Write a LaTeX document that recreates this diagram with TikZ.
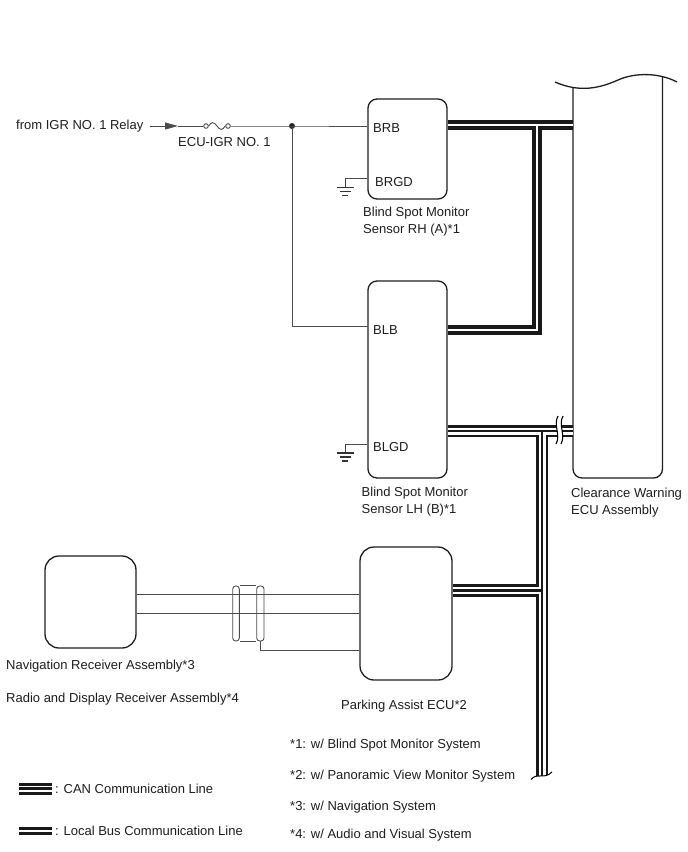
\documentclass[tikz,border=0pt]{standalone}
\usepackage{fontspec}
\setmainfont{Liberation Sans}
\usetikzlibrary{arrows.meta}
\begin{document}
\begin{tikzpicture}[x=1pt,y=-1pt,
  wire/.style={draw=black!70, line width=0.9pt},
  box/.style={draw=black!88, line width=1.3pt, rounded corners=9pt, inner sep=0pt},
  lbl/.style={anchor=base west, inner sep=0pt, font=\fontsize{13}{15}\selectfont, text=black!88},
  locout/.style={draw=black!90, line width=9.7pt},
  locin/.style={draw=white, line width=2.3pt},
  canout/.style={draw=black!90, line width=12.3pt},
  canmid/.style={draw=white, line width=7.3pt},
  cancore/.style={draw=black!90, line width=2.2pt},
  gnd/.pic={\draw[draw=black!75, line width=1pt] (0,0) -- (0,9);
            \draw[draw=black!80, line width=1.3pt] (-8.5,9) -- (8.5,9) (-5.5,13) -- (5.5,13) (-2.8,17) -- (2.8,17);},
]
\useasboundingbox[fill=white] (0,0) rectangle (688,852);

% ---- coordinates of bus ends
\coordinate (ecuLB) at (573,125.2);
\coordinate (lbj) at (536.7,125.2);
\coordinate (lbc) at (536.7,330.2);
\coordinate (ecuCAN) at (573,431.2);
\coordinate (canj) at (542.3,431.2);
\coordinate (canp) at (542.3,590.5);
\coordinate (canend) at (542.3,781);

% ---- boxes
\node[box, minimum width=79pt, minimum height=100pt] (brb) at (407.5,149) {};
\node[box, minimum width=79pt, minimum height=197pt] (blb) at (407.5,379.5) {};
\node[box, minimum width=92pt, minimum height=133pt, rounded corners=14pt] (pa) at (406,613.5) {};
\node[box, minimum width=91pt, minimum height=92pt, rounded corners=14pt] (nav) at (90.5,602) {};

% ---- clearance warning ECU
\draw[draw=black!88, line width=1.3pt, rounded corners=9pt] (573,87.5) -- (573,478) -- (662.5,478) -- (662.5,77);
\draw[draw=black!88, line width=1.3pt] (555,82) .. controls (580,93) and (600,88) .. (618,80) .. controls (636,72) and (660,73) .. (677,82);

% ---- local bus lines
\draw[locout] (brb.east |- ecuLB) -- (ecuLB);
\draw[locout] (lbj) -- (lbc) -- (blb.east |- lbc);
\draw[locin] (brb.east |- ecuLB) -- (ecuLB);
\draw[locin] (lbj) -- (lbc) -- (blb.east |- lbc);

% ---- CAN lines
\draw[canout] (blb.east |- ecuCAN) -- (ecuCAN);
\draw[canout] (canj) -- (canend);
\draw[canout] (canp) -- (pa.east |- canp);
\draw[canmid] (blb.east |- ecuCAN) -- (ecuCAN);
\draw[canmid] (canj) -- (canend);
\draw[canmid] (canp) -- (pa.east |- canp);
\draw[cancore] (blb.east |- ecuCAN) -- (ecuCAN);
\draw[cancore] (canj) -- (canend);
\draw[cancore] (canp) -- (pa.east |- canp);

% break symbol
\fill[white] (558,416) .. controls (553,425) and (561,435) .. (556,444) -- (561,444) .. controls (566,435) and (558,425) .. (563,416) -- cycle;
\draw[line width=1.1pt] (558,416) .. controls (553,425) and (561,435) .. (556,444);
\draw[line width=1.1pt] (563,416) .. controls (558,425) and (566,435) .. (561,444);
% bottom cut
\fill[white] (531,779.5) .. controls (537,772) and (544,780) .. (552,772) -- (553,795) -- (530,795) -- cycle;
\draw[line width=1pt] (531,779.5) .. controls (537,772) and (544,780) .. (552,772);

% ---- power supply
\coordinate (src) at (150,126);
\coordinate (arr) at (178,126);
\node[circle, draw=black!70, line width=0.9pt, fill=white, minimum size=4.6pt, inner sep=0pt] (fa) at (206,126) {};
\node[circle, draw=black!70, line width=0.9pt, fill=white, minimum size=4.6pt, inner sep=0pt] (fb) at (228,126) {};
\node[circle, fill=black!85, minimum size=6pt, inner sep=0pt] (dot) at (292,126) {};
\coordinate (blbpin) at (368,326);
\draw[wire, -{Triangle[length=13pt,width=7pt]}] (src) -- (arr);
\draw[wire] (arr) -- (fa.west);
\draw[wire] (fa.east) sin (212.6,122.6) cos (217,126) sin (221.3,129.4) cos (fb.west);
\draw[wire] (fb.east) -- (dot.center) -- (brb.west |- dot);
\draw[wire] (dot.center) |- (blbpin);

% ---- grounds
\coordinate (g1) at (345,178.3);
\coordinate (g2) at (345,444);
\draw[wire] (brb.west |- g1) -- (g1);
\draw[wire] (blb.west |- g2) -- (g2);
\pic at (g1) {gnd};
\pic at (g2) {gnd};

% ---- navigation to parking assist
\node[draw=black!70, line width=0.9pt, rounded corners=3pt, minimum width=6.6pt, minimum height=55pt, inner sep=0pt] (shA) at (236,613.5) {};
\node[draw=black!70, line width=0.9pt, rounded corners=3pt, minimum width=7.3pt, minimum height=55pt, inner sep=0pt] (shB) at (260.35,613.5) {};
\draw[wire] (shA.north east) -- (shB.north west);
\draw[wire] (shA.south east) -- (shB.south west);
\draw[wire] (nav.east |- 0,594) -- (pa.west |- 0,594);
\draw[wire] (nav.east |- 0,613) -- (pa.west |- 0,613);
\draw[wire] (shB.south) |- (pa.west |- 0,650);

% ---- texts
\node[lbl] (t1) at (16,129.5) {from IGR NO. 1 Relay};
\node[lbl] (t2) at (178,146) {ECU-IGR NO. 1};
\node[lbl] (t3) at (373,132.5) {BRB};
\node[lbl] (t4) at (375,186) {BRGD};
\node[lbl] (t5) at (363,216) {Blind Spot Monitor};
\node[lbl] (t6) at (363,233) {Sensor RH (A)*1};
\node[lbl] (t7) at (373,334) {BLB};
\node[lbl] (t8) at (373,451.5) {BLGD};
\node[lbl] (t9) at (361.5,496) {Blind Spot Monitor};
\node[lbl] (t10) at (361.5,513) {Sensor LH (B)*1};
\node[lbl] (t11) at (571,497) {Clearance Warning};
\node[lbl] (t12) at (571,514) {ECU Assembly};
\node[lbl] (t13) at (6,669) {Navigation Receiver Assembly*3};
\node[lbl] (t14) at (6,702) {Radio and Display Receiver Assembly*4};
\node[lbl] (t15) at (341,709) {Parking Assist ECU*2};
\node[lbl] (f1) at (290,748) {*1: w/ Blind Spot Monitor System};
\node[lbl] (f2) at (290,779) {*2: w/ Panoramic View Monitor System};
\node[lbl] (f3) at (290,810) {*3: w/ Navigation System};
\node[lbl] (f4) at (290,838) {*4: w/ Audio and Visual System};

% ---- legend
\coordinate (lc1) at (19,788.5);
\coordinate (lc2) at (52,788.5);
\coordinate (ll1) at (19,831);
\coordinate (ll2) at (52,831);
\draw[draw=black!90, line width=12pt] (lc1) -- (lc2);
\draw[draw=white, line width=6pt] (lc1) -- (lc2);
\draw[draw=black!90, line width=3pt] (lc1) -- (lc2);
\draw[draw=black!90, line width=8pt] (ll1) -- (ll2);
\draw[draw=white, line width=1.6pt] (ll1) -- (ll2);
\node[lbl] (l1) at (55,793.5) {: CAN Communication Line};
\node[lbl] (l2) at (55,835.5) {: Local Bus Communication Line};
\end{tikzpicture}
\end{document}
